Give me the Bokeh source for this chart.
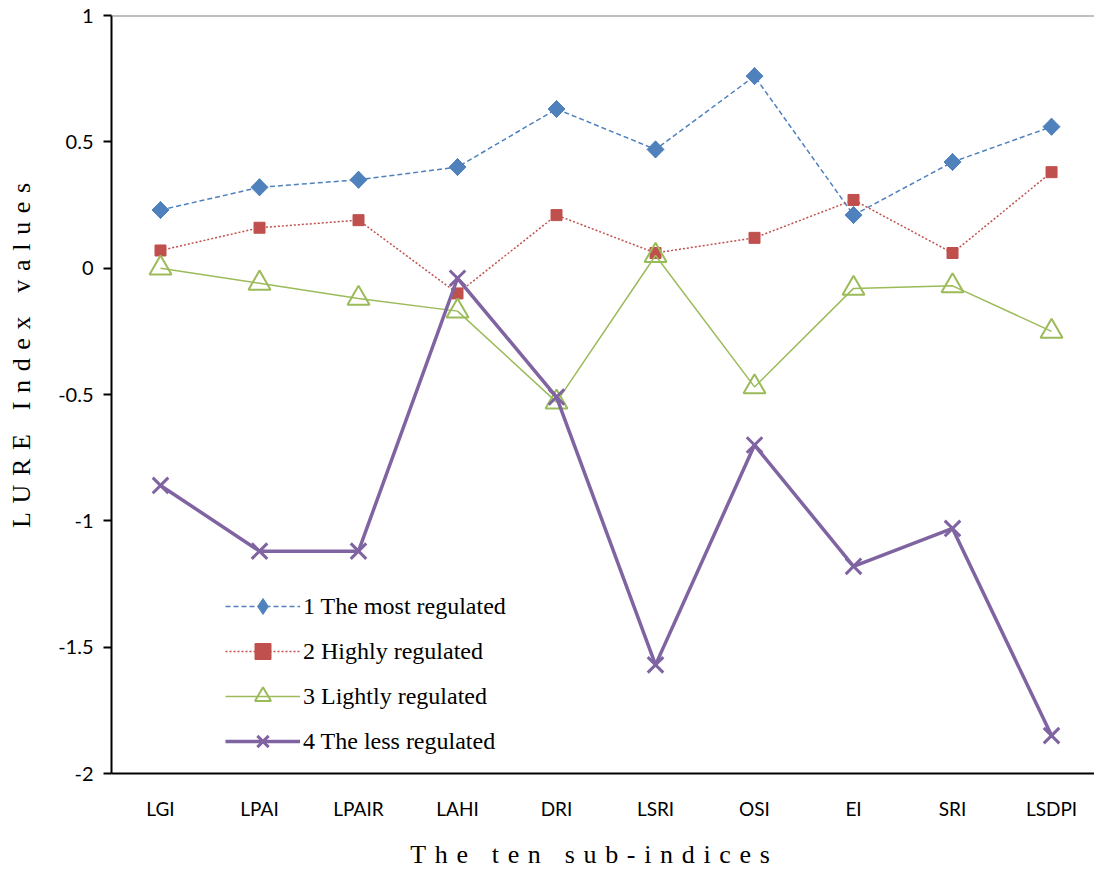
import math

from bokeh.plotting import figure
from bokeh.models import (Range1d, FixedTicker, Span, Legend, LegendItem,
                          CustomJSTickFormatter)
from bokeh.embed import file_html
from bokeh.resources import INLINE

# Sub-index categories along the x axis
categories = ["LGI", "LPAI", "LPAIR", "LAHI", "DRI", "LSRI", "OSI", "EI", "SRI", "LSDPI"]

# LURE index values per regulation cluster
most_regulated = [0.23, 0.32, 0.35, 0.40, 0.63, 0.47, 0.76, 0.21, 0.42, 0.56]
highly_regulated = [0.07, 0.16, 0.19, -0.10, 0.21, 0.06, 0.12, 0.27, 0.06, 0.38]
lightly_regulated = [0.00, -0.06, -0.12, -0.17, -0.53, 0.05, -0.47, -0.08, -0.07, -0.25]
less_regulated = [-0.86, -1.12, -1.12, -0.04, -0.51, -1.57, -0.70, -1.18, -1.03, -1.85]

series_names = ["1 The most regulated", "2 Highly regulated",
                "3 Lightly regulated", "4 The less regulated"]

y_ticks = [-2, -1.5, -1, -0.5, 0, 0.5, 1]

x = list(range(len(categories)))

EM = "\u2003"


def spaced(text, gap="\u2004"):
    """Widen the tracking of a title by putting a thin gap between characters."""
    return gap.join(text)


p = figure(width=1094, height=871,
           x_range=Range1d(-0.495, 9.434), y_range=Range1d(-2, 1),
           output_backend="svg", toolbar_location=None,
           min_border_left=111, min_border_right=0,
           min_border_top=15, min_border_bottom=98)

p.background_fill_color = "white"
p.border_fill_color = "white"
p.outline_line_color = None
p.xgrid.visible = False
p.ygrid.visible = False

# x axis: category names, no ticks
xa = p.xaxis[0]
xa.ticker = FixedTicker(ticks=x, minor_ticks=[])
xa.major_label_overrides = {i: c for i, c in zip(x, categories)}
xa.major_tick_line_color = None
xa.major_tick_out = 0
xa.major_tick_in = 0
xa.minor_tick_line_color = None
xa.axis_line_color = "black"
xa.axis_line_width = 2
xa.major_label_text_font = "Lato"
xa.major_label_text_font_size = "19px"
xa.major_label_text_color = "black"
xa.major_label_standoff = 23
# trailing em space nudges the title slightly left of the axis centre
xa.axis_label = spaced("The ten sub-indices") + EM
xa.axis_label_text_font = "Liberation Serif"
xa.axis_label_text_font_size = "26px"
xa.axis_label_text_font_style = "normal"
xa.axis_label_text_color = "black"
xa.axis_label_standoff = 17

# y axis
ya = p.yaxis[0]
ya.ticker = FixedTicker(ticks=y_ticks, minor_ticks=[])
ya.formatter = CustomJSTickFormatter(code="return tick.toString();")
ya.major_tick_out = 8
ya.major_tick_in = 0
ya.major_tick_line_width = 2
ya.major_tick_line_color = "black"
ya.minor_tick_line_color = None
ya.axis_line_color = "black"
ya.axis_line_width = 2
ya.major_label_text_font = "Lato"
ya.major_label_text_font_size = "20px"
ya.major_label_text_color = "black"
ya.major_label_standoff = 10
# leading em spaces lift the title above the axis centre
ya.axis_label = EM * 3 + spaced("LURE Index values")
ya.axis_label_text_font = "Liberation Serif"
ya.axis_label_text_font_size = "26px"
ya.axis_label_text_font_style = "normal"
ya.axis_label_text_color = "black"
ya.axis_label_standoff = 19

# thin grey rule across the top of the plot area
p.add_layout(Span(location=1, dimension="width", line_color="#808080", line_width=2))

blue, red, green, purple = "#4F81BD", "#C0504D", "#9BBB59", "#8064A2"

l1 = p.line(x, most_regulated, line_color=blue, line_width=1.5, line_dash="5 3")
# plain diamonds (used as the legend swatch) sit under the wider rotated squares
k1 = p.scatter(x, most_regulated, marker="diamond", size=17,
               fill_color=blue, line_color=blue, line_width=1)
m1 = p.scatter(x, most_regulated, marker="square", size=12, angle=math.pi / 4,
               fill_color=blue, line_color=blue, line_width=1)

l2 = p.line(x, highly_regulated, line_color=red, line_width=1.5, line_dash="2 2")
m2 = p.scatter(x, highly_regulated, marker="square", size=11,
               fill_color=red, line_color=red, line_width=1)

l3 = p.line(x, lightly_regulated, line_color=green, line_width=1.5)
m3 = p.scatter(x, lightly_regulated, marker="triangle", size=22,
               fill_alpha=0, line_color=green, line_width=2)

l4 = p.line(x, less_regulated, line_color=purple, line_width=3.5)
m4 = p.scatter(x, less_regulated, marker="x", size=22,
               line_color=purple, line_width=3)

legend = Legend(items=[
    LegendItem(label=series_names[0], renderers=[l1, k1]),
    LegendItem(label=series_names[1], renderers=[l2, m2]),
    LegendItem(label=series_names[2], renderers=[l3, m3]),
    LegendItem(label=series_names[3], renderers=[l4, m4]),
], location=(114, 12))
legend.glyph_width = 75
legend.glyph_height = 40
legend.label_height = 40
legend.spacing = 5
legend.padding = 0
legend.margin = 0
legend.label_standoff = 3
legend.border_line_color = None
legend.background_fill_alpha = 0
legend.label_text_font = "Liberation Serif"
legend.label_text_font_size = "24px"
legend.label_text_color = "black"
p.add_layout(legend)

open("out.html", "w").write(file_html(p, INLINE))
